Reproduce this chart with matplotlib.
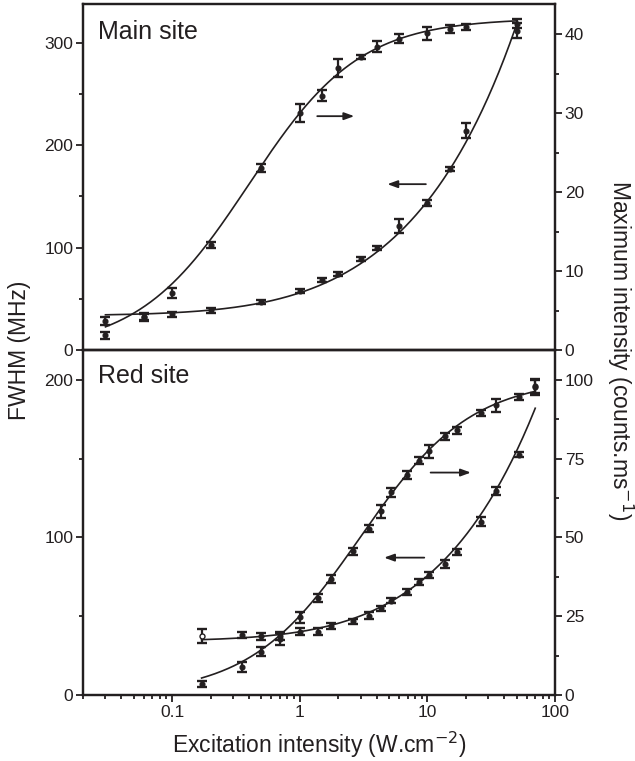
import numpy as np
import matplotlib
matplotlib.use("Agg")
import matplotlib.pyplot as plt
from matplotlib.ticker import FixedLocator, MultipleLocator, LogLocator, FuncFormatter, NullFormatter

plt.rcParams['font.family'] = ['Liberation Sans', 'DejaVu Sans']
INK = '#231f20'

# ---------------- data: main site ----------------
main_x = [0.03, 0.06, 0.1, 0.2, 0.5, 1, 1.5, 2, 3, 4, 6, 10, 15, 20, 50]
main_fwhm = [28, 32, 35, 39, 47, 58, 68, 74, 89, 100, 121, 144, 177, 214, 312]
main_fwhm_err = [4, 3, 2.5, 2.5, 2, 2, 2, 2, 2, 2, 6.5, 3, 2, 7.3, 7.5]
main_int = [1.85, 4.2, 7.2, 13.3, 23.0, 30.0, 32.2, 35.7, 37.1, 38.4, 39.4, 40.1, 40.6, 40.9, 41.3]
main_int_err = [0.4, 0.5, 0.6, 0.4, 0.5, 1.1, 0.7, 1.1, 0.3, 0.7, 0.6, 0.85, 0.5, 0.35, 0.6]

# fitted saturation-model parameters (main site)
main_fwhm0, main_fwhm_isat = 33.5, 0.561
main_imax, main_int_isat = 42.0, 0.40
main_fit_range = (0.03, 50)

# ---------------- data: red site ----------------
red_x = [0.17, 0.35, 0.5, 0.7, 1, 1.4, 1.75, 2.6, 3.5, 4.3, 5.2, 6.9, 8.6, 10.3, 13.8, 17.2, 26.3, 34.6, 52, 70]
red_fwhm = [37.6, 38.3, 37.2, 37.2, 40.3, 40.3, 43.6, 46.8, 50.4, 55.1, 59.9, 65.3, 71.7, 76.3, 83.4, 90.9, 110, 129.3, 152.5, 196]
red_fwhm_err = [4.5, 2, 2, 2.5, 2, 2, 2, 1.5, 2, 1.5, 1.5, 2, 2, 2, 2.5, 2, 3, 2.5, 1.5, 4]
red_int = [3.4, 8.9, 13.8, 17.8, 24.7, 30.7, 36.9, 45.6, 52.8, 58.3, 64.3, 69.8, 74.4, 77.3, 82.1, 84.0, 89.5, 91.9, 94.5, 97.7]
red_int_err = [1, 1.5, 1.5, 2, 1.8, 1.2, 1.2, 1.2, 1.2, 2.1, 1.5, 1.2, 1.2, 2, 1.2, 1.2, 1, 2.1, 1, 2.5]

red_fwhm0, red_fwhm_isat = 34.0, 2.53
red_imax, red_int_isat = 100.5, 3.0
red_fit_range = (0.17, 70)

x_ticks = [0.1, 1, 10, 100]
x_tick_labels = ['0.1', '1', '10', '100']

fig = plt.figure(figsize=(6.35, 7.61), dpi=100)
L, W = 83 / 635, (555 - 83) / 635
ax1 = fig.add_axes([L, 1 - 350 / 761, W, 346 / 761])
ax2 = fig.add_axes([L, 1 - 695 / 761, W, 345 / 761], sharex=ax1)
ax1r = ax1.twinx()
ax2r = ax2.twinx()

ebkw = dict(fmt='o', color=INK, ms=3.4, elinewidth=1.6, capsize=3.8, capthick=1.7, zorder=3)
fitkw = dict(color=INK, lw=1.2, zorder=2)


def fwhm_model(x, g0, isat):
    return g0 * np.sqrt(1 + x / isat)


def int_model(x, imax, isat):
    return imax * x / (x + isat)


# main site
xf = np.logspace(np.log10(main_fit_range[0]), np.log10(main_fit_range[1]), 300)
ax1.plot(xf, fwhm_model(xf, main_fwhm0, main_fwhm_isat), **fitkw)
ax1.errorbar(main_x, main_fwhm, yerr=main_fwhm_err, **ebkw)
ax1r.plot(xf, int_model(xf, main_imax, main_int_isat), **fitkw)
ax1r.errorbar(main_x, main_int, yerr=main_int_err, **ebkw)

# red site
xf2 = np.logspace(np.log10(red_fit_range[0]), np.log10(red_fit_range[1]), 300)
ax2.plot(xf2, fwhm_model(xf2, red_fwhm0, red_fwhm_isat), **fitkw)
ax2.errorbar(red_x[1:], red_fwhm[1:], yerr=red_fwhm_err[1:], **ebkw)
ax2.errorbar(red_x[:1], red_fwhm[:1], yerr=red_fwhm_err[:1], fmt='o', mfc='white', mec=INK,
             color=INK, ms=3.6, elinewidth=1.6, capsize=3.8, capthick=1.7, zorder=3)
ax2r.plot(xf2, int_model(xf2, red_imax, red_int_isat), **fitkw)
ax2r.errorbar(red_x, red_int, yerr=red_int_err, **ebkw)

# axes setup
ax1.set_xscale('log')
ax1.set_xlim(0.02, 100)
ax1.set_ylim(0, 338)
ax1r.set_ylim(0, 43.8)
ax2.set_ylim(0, 219)
ax2r.set_ylim(0, 109.5)

for a in (ax1, ax2, ax1r, ax2r):
    for s in a.spines.values():
        s.set_linewidth(1.6)
        s.set_color(INK)
    a.tick_params(which='both', direction='out', colors=INK, labelsize=12.5, width=1.3, pad=2)
    a.tick_params(which='major', length=5)
    a.tick_params(which='minor', length=3)

ax1.yaxis.set_major_locator(MultipleLocator(100))
ax1.yaxis.set_minor_locator(MultipleLocator(50))
ax1r.yaxis.set_major_locator(MultipleLocator(10))
ax1r.yaxis.set_minor_locator(MultipleLocator(5))
ax2.yaxis.set_major_locator(MultipleLocator(100))
ax2.yaxis.set_minor_locator(MultipleLocator(50))
ax2r.yaxis.set_major_locator(MultipleLocator(25))
ax2r.yaxis.set_minor_locator(MultipleLocator(12.5))

ax1.tick_params(axis='x', which='both', bottom=False, top=False, labelbottom=False)
ax1r.tick_params(axis='x', which='both', bottom=False, top=False, labelbottom=False)
ax2.xaxis.set_major_locator(FixedLocator(x_ticks))
ax2.xaxis.set_major_formatter(FuncFormatter(lambda v, p: dict(zip(x_ticks, x_tick_labels)).get(v, '')))
ax2.xaxis.set_minor_locator(LogLocator(base=10, subs=np.arange(2, 10)))
ax2.xaxis.set_minor_formatter(NullFormatter())
ax2.tick_params(axis='x', which='both', top=False)
ax2r.tick_params(axis='x', which='both', top=False)
ax1.set_zorder(ax1r.get_zorder() + 1); ax1.patch.set_visible(False)
ax2.set_zorder(ax2r.get_zorder() + 1); ax2.patch.set_visible(False)

# arrows
akw = dict(arrowstyle='-|>,head_length=0.6,head_width=0.22', color=INK, lw=1.3, shrinkA=0, shrinkB=0)
ax1r.annotate('', xy=(2.67, 29.6), xytext=(1.37, 29.6), arrowprops=akw)
ax1.annotate('', xy=(4.86, 162), xytext=(9.73, 162), arrowprops=akw)
ax2r.annotate('', xy=(21.9, 70.6), xytext=(10.6, 70.6), arrowprops=akw)
ax2.annotate('', xy=(4.58, 87.2), xytext=(9.45, 87.2), arrowprops=akw)

# panel labels
ax1.text(0.032, 0.90, 'Main site', transform=ax1.transAxes, fontsize=18, color=INK, va='baseline')
ax2.text(0.032, 0.905, 'Red site', transform=ax2.transAxes, fontsize=18, color=INK, va='baseline')

ax2.set_xlabel('Excitation intensity (W.cm$^{-2}$)', fontsize=16.5, color=INK, labelpad=7)
fig.text(20 / 635, 1 - 350 / 761, 'FWHM (MHz)', rotation=90, fontsize=16.5, color=INK,
         ha='center', va='center')
fig.text(620 / 635, 1 - 350 / 761, 'Maximum intensity (counts.ms$^{-1}$)', rotation=270,
         fontsize=16.5, color=INK, ha='center', va='center')

fig.savefig('out.png', dpi=100)
